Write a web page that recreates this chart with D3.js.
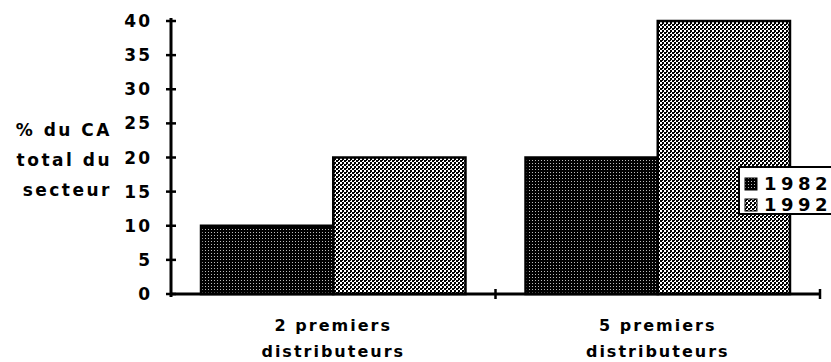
<!DOCTYPE html>
<html><head><meta charset="utf-8">
<script src="https://cdn.jsdelivr.net/npm/d3@7"></script>
<style>body{margin:0;background:#fff}svg{display:block}text{font-family:"DejaVu Sans",sans-serif;font-weight:bold;fill:#000}</style>
</head><body><svg id="c" width="831" height="362"></svg>
<script>
const categories = ["2 premiers|distributeurs", "5 premiers|distributeurs"];
const series = ["1982", "1992"];
const values1982 = [10, 20];
const values1992 = [20, 40];
const yTicks = [0, 5, 10, 15, 20, 25, 30, 35, 40];
const yLabel = ["% du CA", "total du", "secteur"];

const svg = d3.select("#c");
const defs = svg.append("defs");
const p1 = defs.append("pattern").attr("id","p1982").attr("patternUnits","userSpaceOnUse").attr("width",3).attr("height",3);
p1.append("rect").attr("width",3).attr("height",3).attr("fill","#000");
p1.append("rect").attr("x",1).attr("y",1).attr("width",1).attr("height",1).attr("fill","#bbb");
const p2 = defs.append("pattern").attr("id","p1992").attr("patternUnits","userSpaceOnUse").attr("width",4).attr("height",4);
p2.append("rect").attr("width",4).attr("height",4).attr("fill","#fff");
p2.append("rect").attr("x",0).attr("y",0).attr("width",2).attr("height",2).attr("fill","#000");
p2.append("rect").attr("x",2).attr("y",2).attr("width",2).attr("height",2).attr("fill","#000");
p2.append("rect").attr("x",2).attr("y",0).attr("width",1).attr("height",1).attr("fill","#000");
const fills = {"1982":"url(#p1982)","1992":"url(#p1992)"};

const x0 = d3.scaleBand().domain(categories).range([171, 820]).paddingInner(0.185).paddingOuter(0.0925);
const x1 = d3.scaleBand().domain(series).range([0, x0.bandwidth()]);
const y = d3.scaleLinear().domain([0, 40]).range([294, 21]);

const data = categories.map((c,i)=>({cat:c, vals:[{s:"1982",v:values1982[i]},{s:"1992",v:values1992[i]}]}));

const g = svg.append("g");
data.forEach(d=>{
  g.selectAll(null).data(d.vals).enter().append("rect")
   .attr("x", e=>x0(d.cat)+x1(e.s))
   .attr("y", e=>y(e.v))
   .attr("width", x1.bandwidth())
   .attr("height", e=>y(0)-y(e.v))
   .attr("fill", e=>fills[e.s])
   .attr("stroke","#000").attr("stroke-width",2.5);
});

const ax = svg.append("g");
ax.append("line").attr("x1",171).attr("x2",171).attr("y1",y(40)-3).attr("y2",y(0)+3).attr("stroke","#000").attr("stroke-width",3);
ax.selectAll(".yt").data(yTicks).enter().append("line")
  .attr("x1",166).attr("x2",176).attr("y1",d=>y(d)).attr("y2",d=>y(d)).attr("stroke","#000").attr("stroke-width",2.5);
ax.selectAll(".yl").data(yTicks).enter().append("text")
  .attr("x",152).attr("y",d=>y(d)).attr("dy","0.36em").attr("text-anchor","end")
  .attr("font-size",17).attr("letter-spacing",2).text(d=>d);

const step = x0.step();
const xEdges = [171, 171+step, 171+2*step];
ax.append("line").attr("x1",171).attr("x2",xEdges[2]).attr("y1",y(0)).attr("y2",y(0)).attr("stroke","#000").attr("stroke-width",3);
ax.selectAll(".xt").data(xEdges.slice(1)).enter().append("line")
  .attr("x1",d=>d).attr("x2",d=>d).attr("y1",y(0)-5).attr("y2",y(0)+5).attr("stroke","#000").attr("stroke-width",2.5);

categories.forEach(c=>{
  const parts = c.split("|");
  const cx = x0(c)+x0.bandwidth()/2;
  parts.forEach((p,i)=>{
    svg.append("text").attr("x",cx).attr("y",331+i*26).attr("text-anchor","middle")
      .attr("font-size",16).attr("letter-spacing",2).text(p);
  });
});

yLabel.forEach((t,i)=>{
  svg.append("text").attr("x",112).attr("y",136+i*30).attr("text-anchor","end")
    .attr("font-size",17).attr("letter-spacing",2.5).text(t);
});

const lg = svg.append("g");
lg.append("rect").attr("x",739).attr("y",167).attr("width",100).attr("height",47).attr("fill","#fff").attr("stroke","#000").attr("stroke-width",2);
series.forEach((s,i)=>{
  lg.append("rect").attr("x",745).attr("y",178+i*21).attr("width",12).attr("height",12).attr("fill",fills[s]).attr("stroke","#000").attr("stroke-width",1);
  lg.append("text").attr("x",764).attr("y",190+i*21).attr("font-size",18).attr("letter-spacing",4.5).text(s);
});
</script></body></html>
